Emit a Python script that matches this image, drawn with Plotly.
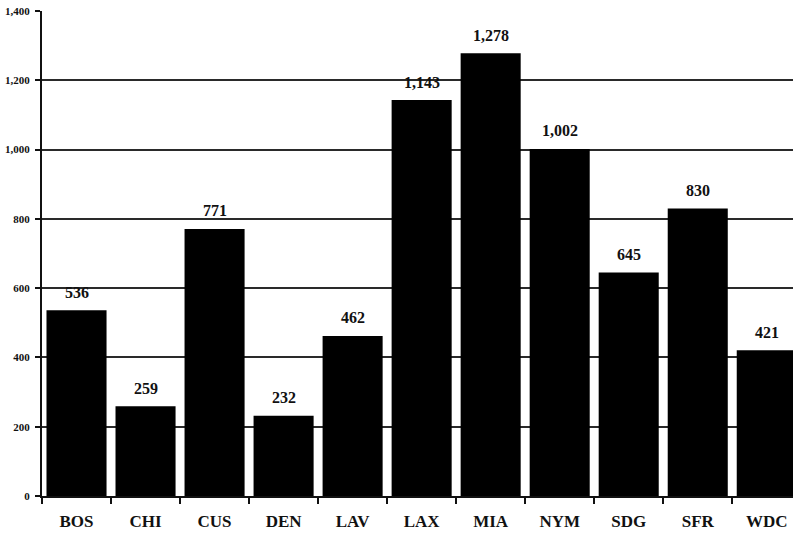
import plotly.graph_objects as go

# Category codes and their counts
cities = ["BOS", "CHI", "CUS", "DEN", "LAV", "LAX", "MIA", "NYM", "SDG", "SFR", "WDC"]
counts = [536, 259, 771, 232, 462, 1143, 1278, 1002, 645, 830, 421]

grid_vals = [200, 400, 600, 800, 1000, 1200]
tick_vals = [0, 200, 400, 600, 800, 1000, 1200, 1400]
tick_text = [f"{v:,}" for v in tick_vals]

serif = "Liberation Serif"
ink = "#111111"

fig = go.Figure()
fig.add_trace(go.Bar(
    x=cities, y=counts,
    marker=dict(color="black", line=dict(width=0)),
    hoverinfo="x+y",
))

# value labels above each bar
for c, v in zip(cities, counts):
    fig.add_annotation(
        x=c, y=v, text=f"<b>{v:,}</b>", showarrow=False,
        yshift=18, font=dict(family=serif, size=16, color=ink),
    )

fig.update_layout(
    width=793, height=535,
    margin=dict(l=42, r=0, t=11, b=39),
    paper_bgcolor="white", plot_bgcolor="white",
    bargap=0.13,
    showlegend=False,
    xaxis=dict(
        type="category",
        range=[-0.5, 10.38],
        showline=True, linecolor=ink, linewidth=2,
        ticks="outside", tickson="boundaries", ticklen=6, tickwidth=2, tickcolor=ink,
        showgrid=False,
        tickfont=dict(family=serif, size=17, color=ink, weight="bold"),
        ticklabelstandoff=9,
    ),
    yaxis=dict(
        range=[0, 1400],
        tickvals=grid_vals, showticklabels=False, ticks="",
        showgrid=True, gridcolor="#2a2a2a", gridwidth=2,
        zeroline=False, showline=False,
    ),
    yaxis2=dict(
        range=[0, 1400], overlaying="y", side="left",
        tickvals=tick_vals, ticktext=tick_text,
        showgrid=False, zeroline=False,
        showline=True, linecolor=ink, linewidth=2,
        ticks="outside", ticklen=5, tickwidth=2, tickcolor=ink,
        tickfont=dict(family=serif, size=11, color=ink, weight="bold"),
        ticklabelstandoff=3,
    ),
)

# invisible trace to activate the labelled overlay axis
fig.add_trace(go.Scatter(x=cities, y=counts, yaxis="y2", mode="markers",
                         marker=dict(opacity=0), hoverinfo="skip"))

fig.write_html("out.html")
